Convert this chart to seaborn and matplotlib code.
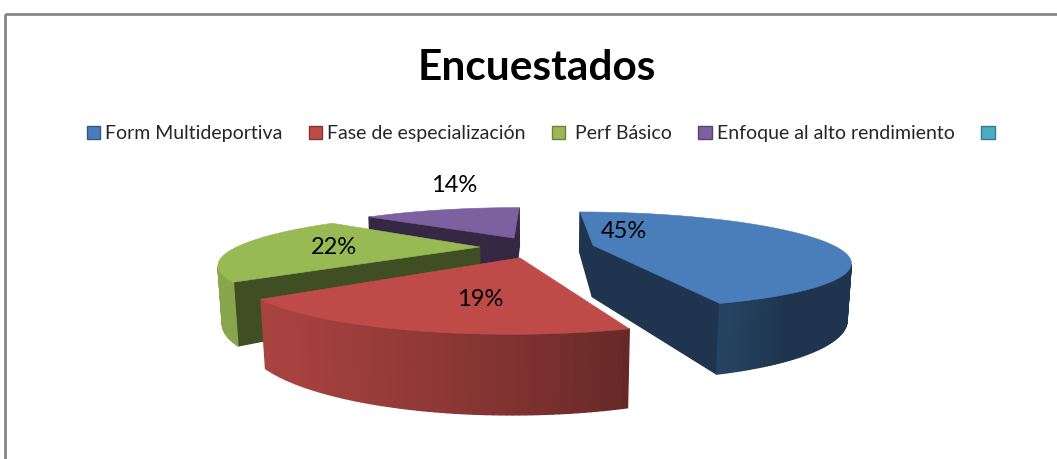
import numpy as np
import matplotlib
matplotlib.use("Agg")
import matplotlib.pyplot as plt
from matplotlib.patches import Polygon, Patch, Rectangle
import seaborn as sns

sns.set_theme(style="white")
plt.rcParams['font.family'] = ['Lato', 'DejaVu Sans']

# data
categories = ["Form Multideportiva", "Fase de especialización", " Perf Básico",
              "Enfoque al alto rendimiento", ""]
values = [45, 19, 22, 14, 0]
colors = ["#4A7EBB", "#BE4B48", "#98B954", "#7D60A0", "#4BACC6"]
title = "Encuestados"

# label placement relative to each slice (angle offset from bisector, radius, pixel shift)
label_dang = [56, 7, 0, 0]
label_rad = [0.40, 0.655, 0.60, 1.0]
label_shift = [(0, 0), (0, 0), (0, 0), (12, -24)]

W, H = 1057, 459
fig = plt.figure(figsize=(W / 100, H / 100), dpi=100)
ax = fig.add_axes([0, 0, 1, 1])
ax.set_xlim(0, W)
ax.set_ylim(H, 0)
ax.axis("off")

# 3d view settings
cx, cy = 537, 247
S = 243
a = np.sin(np.radians(10.55))
c = np.cos(np.radians(10.55))
D = 3.22
depth = 0.22
explode = 0.236
start = 90
cam = np.array([0, -D * c, D * a])
light = np.array([-0.8, -0.5, 0.3])
light = light / np.linalg.norm(light)


def proj(x, y, z):
    t = y * c - z * a
    v = y * a + z * c
    f = D / (D + t)
    return cx + S * x * f, cy - S * v * f


def shade(col, k):
    rgb = np.array(matplotlib.colors.to_rgb(col))
    return tuple(np.clip(rgb * k, 0, 1))


total = sum(values)
wedges = []
cum = 0
for i, v in enumerate(values):
    a0 = start - cum / total * 360
    a1 = a0 - v / total * 360
    cum += v
    if v == 0:
        continue
    mid = np.radians((a0 + a1) / 2)
    ox, oy = explode * np.cos(mid), explode * np.sin(mid)
    ang = np.radians(np.linspace(a1, a0, int(abs(a0 - a1)) + 2))
    rx = ox + np.cos(ang)
    ry = oy + np.sin(ang)
    cen = np.array([ox + 0.5 * np.cos(mid), oy + 0.5 * np.sin(mid), 0])
    dist = np.linalg.norm(cen - cam)
    wedges.append(dict(i=i, a0=a0, a1=a1, mid=mid, ox=ox, oy=oy, ang=ang, rx=rx, ry=ry, dist=dist))

for w in sorted(wedges, key=lambda d: -d["dist"]):
    col = colors[w["i"]]
    faces = []
    # radial cut faces
    for edge, sign in ((w["a0"], 1), (w["a1"], -1)):
        e = np.radians(edge)
        n = np.array([-np.sin(e), np.cos(e), 0]) * sign
        px, py = w["ox"] + np.cos(e), w["oy"] + np.sin(e)
        p = np.array([(w["ox"] + px) / 2, (w["oy"] + py) / 2, -depth / 2])
        if np.dot(n, cam - p) > 0:
            pts = [proj(w["ox"], w["oy"], 0), proj(px, py, 0),
                   proj(px, py, -depth), proj(w["ox"], w["oy"], -depth)]
            faces.append((np.linalg.norm(p - cam), pts, shade(col, 0.42)))
    # outer curved wall
    for k in range(len(w["ang"]) - 1):
        m = (w["ang"][k] + w["ang"][k + 1]) / 2
        n = np.array([np.cos(m), np.sin(m), 0])
        p = np.array([w["ox"] + np.cos(m), w["oy"] + np.sin(m), -depth / 2])
        if np.dot(n, cam - p) <= 0:
            continue
        x0, y0 = w["rx"][k], w["ry"][k]
        x1, y1 = w["rx"][k + 1], w["ry"][k + 1]
        pts = [proj(x0, y0, 0), proj(x1, y1, 0), proj(x1, y1, -depth), proj(x0, y0, -depth)]
        k_l = 0.42 + 0.5 * max(0, np.dot(n, light))
        faces.append((np.linalg.norm(p - cam), pts, shade(col, k_l)))
    for _, pts, fc in sorted(faces, key=lambda f: -f[0]):
        ax.add_patch(Polygon(pts, closed=True, facecolor=fc, edgecolor=fc, lw=1.0))
    # top face
    top = [proj(w["ox"], w["oy"], 0)] + [proj(x, y, 0) for x, y in zip(w["rx"], w["ry"])]
    ax.add_patch(Polygon(top, closed=True, facecolor=col, edgecolor=col, lw=0.4))

# percentage labels
for w in wedges:
    i = w["i"]
    la = w["mid"] + np.radians(label_dang[i])
    lx = w["ox"] + label_rad[i] * np.cos(la)
    ly = w["oy"] + label_rad[i] * np.sin(la)
    px, py = proj(lx, ly, 0)
    px += label_shift[i][0]
    py += label_shift[i][1]
    ax.text(px, py, f"{values[i] / total * 100:.0f}%", ha="center", va="center",
            fontsize=17, color="black")

# chart frame
ax.add_patch(Rectangle((5, 14), 1200, 600, fill=False, edgecolor="#868686", lw=2, clip_on=False))

fig.text(537 / W, 1 - 80 / H, title, ha="center", va="baseline", fontsize=30.5,
         fontweight="bold", color="black")

handles = [Patch(facecolor=col, edgecolor=shade(col, 0.7), lw=1) for col in colors]
fig.legend(handles, categories, loc="center", bbox_to_anchor=(543 / W, 1 - 134 / H),
           ncol=5, frameon=False, fontsize=14, handlelength=0.7, handleheight=0.7,
           handletextpad=0.25, columnspacing=1.35, borderpad=0)

fig.savefig("out.png", dpi=100, facecolor="white")
